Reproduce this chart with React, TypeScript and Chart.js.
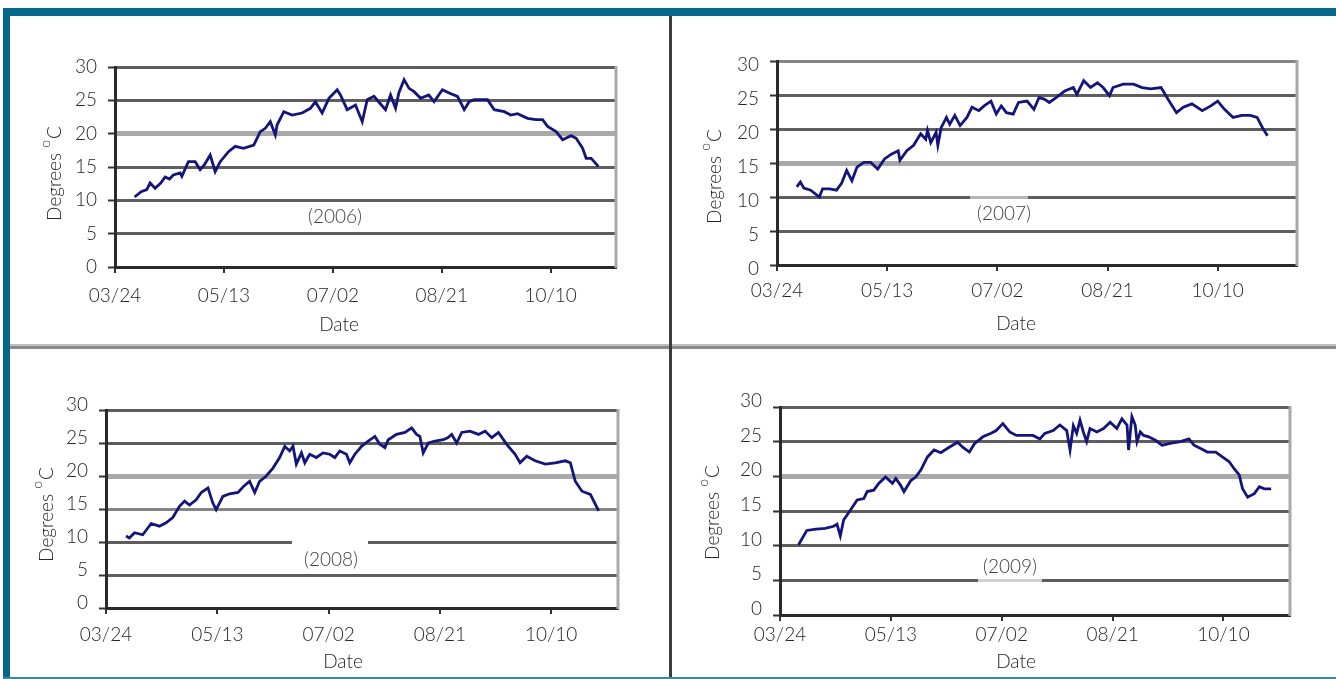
import React, { useEffect, useRef } from 'react';
import { Chart, registerables } from 'chart.js';

Chart.register(...registerables);

// ---------- data ----------
const TICK_DAYS = [0, 50, 100, 150, 200];
const TICK_LABELS = ['03/24', '05/13', '07/02', '08/21', '10/10'];
const Y_TICKS = [0, 5, 10, 15, 20, 25, 30];

const days2006 = [9, 12, 14.6, 16.1, 18.4, 21, 23, 25, 26.8, 29.9, 30.7, 33.7, 36.8, 39.1, 41, 43.7, 46, 48.3, 52.1, 55.2, 59, 63.7, 66.7, 69, 71.3, 73.6, 74.4, 77.5, 81.3, 85.9, 89.7, 92, 95.1, 98.2, 102, 103.5, 106.6, 110.4, 113.5, 115.8, 118.9, 121.5, 124.2, 126.5, 128.8, 130.3, 132.7, 135, 137.3, 140.3, 144, 146.5, 150.3, 153.4, 157.2, 158.8, 160.3, 162.6, 164.9, 167.2, 171, 174.1, 178.7, 181.7, 184.8, 189.4, 193.2, 196.3, 198.6, 202.5, 205.5, 209.4, 211.7, 214.7, 216.3, 218.6, 221.9];
const temps2006 = [10.5, 11.3, 11.6, 12.6, 11.8, 12.6, 13.5, 13.2, 13.8, 14.1, 13.6, 15.8, 15.8, 14.6, 15.3, 16.8, 14.3, 15.8, 17.3, 18.1, 17.8, 18.3, 20.3, 20.8, 21.8, 19.8, 21.3, 23.3, 22.8, 23.1, 23.8, 24.8, 23.1, 25.3, 26.6, 25.8, 23.6, 24.3, 21.8, 25.1, 25.6, 24.6, 23.6, 25.8, 23.8, 26.1, 28.1, 26.8, 26.3, 25.3, 25.8, 24.8, 26.6, 26.1, 25.6, 24.6, 23.6, 24.8, 25.1, 25.1, 25.1, 23.6, 23.3, 22.8, 23, 22.3, 22.1, 22.1, 21.1, 20.3, 19.1, 19.7, 19.3, 17.8, 16.3, 16.3, 15.1];

const days2007 = [9, 10.6, 12.2, 15.3, 19.2, 20.7, 23.9, 27, 29.3, 31.6, 34, 36.3, 39.4, 42.5, 45.7, 48.8, 51.9, 55, 55.8, 58.9, 62, 65.2, 67.5, 68.3, 69.8, 72.2, 73, 74.5, 76.9, 78.4, 80.7, 83.1, 86.2, 88.5, 91.6, 94, 97.1, 99.5, 101.8, 104.1, 107.2, 109.6, 113.5, 116.6, 118.9, 121.3, 123.6, 126.7, 130.6, 134.5, 136.1, 139.2, 142.3, 145.4, 148, 150.9, 152.5, 157.1, 161.8, 165.7, 169.6, 174.3, 177.4, 181.3, 184.4, 188.3, 193, 196.9, 200, 203.1, 207, 210.9, 214.8, 217.9, 220.3, 222.6];
const temps2007 = [11.5, 12.2, 11.3, 11, 10, 11.2, 11.2, 11, 12, 13.9, 12.4, 14.4, 15.1, 15.1, 14.1, 15.6, 16.3, 16.8, 15.4, 16.8, 17.6, 19.3, 18.5, 19.8, 18, 19.5, 17.6, 20.2, 21.7, 20.7, 22, 20.5, 21.7, 23.2, 22.7, 23.4, 24.1, 22.2, 23.4, 22.4, 22.2, 23.9, 24.1, 22.9, 24.6, 24.4, 23.9, 24.6, 25.6, 26.1, 25.1, 27.1, 26.1, 26.8, 26.1, 24.9, 26.1, 26.6, 26.6, 26.1, 25.9, 26.1, 24.4, 22.4, 23.2, 23.7, 22.7, 23.4, 24.1, 22.9, 21.7, 22, 22, 21.7, 20.2, 19];

const days2008 = [9, 10.5, 12.8, 16.5, 20.3, 24, 27, 30, 33, 35.3, 37.5, 40.5, 42.8, 45.8, 48, 49.5, 52.5, 55.5, 59.3, 62, 64.5, 66.8, 69, 72, 75, 78, 80.3, 82.5, 84, 85.5, 87.8, 89.3, 91.5, 94.5, 97.5, 100.5, 102.8, 105, 108, 109.5, 111.8, 114.8, 117.8, 120.8, 123, 125.3, 126.8, 130.5, 134.3, 137.3, 139.5, 141, 142.5, 144.8, 147.8, 151.5, 153.5, 155.3, 157.5, 159.8, 163.5, 167.3, 170.3, 173.3, 176.3, 180, 183.8, 186, 189, 192.8, 197.3, 201.8, 206.3, 208.6, 210.8, 213.8, 217.6, 221.3];
const temps2008 = [10.9, 10.6, 11.4, 11.1, 12.8, 12.4, 12.9, 13.7, 15.4, 16.2, 15.6, 16.4, 17.5, 18.2, 15.9, 14.9, 16.9, 17.3, 17.5, 18.5, 19.2, 17.5, 19.2, 20, 21.2, 22.8, 24.5, 23.8, 24.5, 21.8, 23.5, 22, 23.3, 22.8, 23.5, 23.3, 22.8, 23.8, 23.3, 22, 23.3, 24.5, 25.3, 26, 24.8, 24.3, 25.5, 26.3, 26.6, 27.3, 26.3, 26, 23.5, 25, 25.3, 25.5, 25.8, 26.3, 25, 26.6, 26.8, 26.3, 26.8, 25.8, 26.6, 24.8, 23.3, 22, 23, 22.3, 21.8, 22, 22.3, 22, 19.2, 17.7, 17.2, 14.7];

const days2009 = [8.3, 12.1, 16.3, 20.4, 24.2, 25.7, 27.2, 28.7, 31.7, 34.8, 37.8, 39.3, 42.3, 44.6, 47.6, 50.7, 52.2, 54.4, 55.9, 59, 61.2, 63.5, 66.5, 69.5, 72.5, 76.3, 80.1, 82.4, 85.4, 87.7, 91.5, 95.2, 97.5, 100.5, 103.6, 106.6, 110.4, 114.1, 117.2, 119.4, 123.2, 126.2, 129.3, 130.8, 132.3, 133.8, 135.3, 136.8, 138.3, 139.8, 142.9, 145.9, 148.9, 151.9, 154.2, 156.5, 157.2, 158.7, 160.2, 161, 162.5, 164, 166.3, 169.3, 172.3, 176.5, 180.6, 184.4, 186.7, 189.7, 192.7, 196.5, 199.5, 202.6, 204.8, 207.1, 208.6, 210.9, 213.9, 216.2, 218.4, 221.5];
const temps2009 = [10.1, 12.2, 12.4, 12.5, 12.8, 13.1, 11.4, 13.7, 15.1, 16.6, 16.8, 17.8, 18, 19, 19.9, 19, 19.7, 18.7, 17.8, 19.4, 19.9, 20.9, 22.8, 23.8, 23.4, 24.2, 24.9, 24.2, 23.5, 24.7, 25.7, 26.2, 26.6, 27.6, 26.4, 25.9, 25.9, 25.9, 25.4, 26.2, 26.6, 27.4, 26.6, 23.8, 27.3, 26.2, 28.1, 26.4, 25, 26.9, 26.4, 26.9, 27.8, 26.9, 28.3, 27.4, 23.8, 28.6, 27.4, 25, 26.4, 25.9, 25.7, 25.2, 24.5, 24.8, 25, 25.4, 24.5, 24, 23.5, 23.5, 22.8, 22.1, 21.1, 20.2, 18.2, 17, 17.5, 18.5, 18.2, 18.2];

// ---------- styles / layout ----------
const W = 1336;
const H = 679;
const FONT = "Lato, 'Open Sans', 'DejaVu Sans', sans-serif";
const WEIGHT = '300';
const TEXT = '#262626';
const LINE = '#14147a';
const TEAL = '#06698c';
const D = '#5e5e5e';
const M = '#858585';
const L = '#a9a9a9';

type Box = { x: number; y: number; w: number; h: number; fill: string } | null;
type PanelCfg = {
  year: string;
  days: number[];
  temps: number[];
  area: { l: number; r: number; t: number; b: number };
  xMax: number;
  xPad: number;
  yOff: number;
  grid: string[];
  yTitle: [number, number];
  xTitle: [number, number];
  label: [number, number];
  box: Box;
};

const PANELS: PanelCfg[] = [
  {
    year: '(2006)', days: days2006, temps: temps2006,
    area: { l: 115, r: 616, t: 67, b: 267 }, xMax: 230, xPad: 11, yOff: 0,
    grid: [D, D, D, D, L, D, D],
    yTitle: [54, 174], xTitle: [339, 325], label: [335, 217], box: null,
  },
  {
    year: '(2007)', days: days2007, temps: temps2007,
    area: { l: 777, r: 1297, t: 61, b: 265 }, xMax: 236, xPad: 8, yOff: 4,
    grid: [D, D, D, L, D, D, M],
    yTitle: [714, 177], xTitle: [1016, 324], label: [1004, 214],
    box: { x: 970, y: 194, w: 58, h: 5, fill: 'rgba(255,255,255,0.55)' },
  },
  {
    year: '(2008)', days: days2008, temps: temps2008,
    area: { l: 106, r: 618, t: 410, b: 608 }, xMax: 230, xPad: 9, yOff: -5,
    grid: [D, D, D, M, L, D, D],
    yTitle: [46, 515], xTitle: [343, 662], label: [331, 560],
    box: { x: 292, y: 541, w: 76, h: 30, fill: '#ffffff' },
  },
  {
    year: '(2009)', days: days2009, temps: temps2009,
    area: { l: 780, r: 1290, t: 407, b: 615 }, xMax: 230, xPad: 2, yOff: -6,
    grid: [D, D, D, D, L, D, D],
    yTitle: [712, 513], xTitle: [1016, 662], label: [1010, 567],
    box: { x: 978, y: 556, w: 64, h: 28, fill: 'rgba(255,255,255,0.7)' },
  },
];

function makeDecor(p: PanelCfg) {
  return {
    id: 'decor',
    beforeDatasetsDraw(chart: any) {
      const ctx = chart.ctx as CanvasRenderingContext2D;
      const a = chart.chartArea;
      ctx.save();
      ctx.strokeStyle = L;
      ctx.lineWidth = 3;
      ctx.beginPath();
      ctx.moveTo(a.right, a.top - 1);
      ctx.lineTo(a.right, a.bottom + 1);
      ctx.stroke();
      if (p.box) {
        ctx.fillStyle = p.box.fill;
        ctx.fillRect(p.box.x, p.box.y, p.box.w, p.box.h);
      }
      ctx.fillStyle = '#404040';
      ctx.font = `${WEIGHT} 19px ${FONT}`;
      ctx.textAlign = 'center';
      ctx.textBaseline = 'middle';
      ctx.fillText(p.year, p.label[0], p.label[1]);
      ctx.restore();
    },
    afterDraw(chart: any) {
      const ctx = chart.ctx as CanvasRenderingContext2D;
      ctx.save();
      ctx.fillStyle = TEXT;
      ctx.font = `${WEIGHT} 19px ${FONT}`;
      ctx.textAlign = 'center';
      ctx.textBaseline = 'middle';
      ctx.fillText('Date', p.xTitle[0], p.xTitle[1]);
      ctx.translate(p.yTitle[0], p.yTitle[1]);
      ctx.rotate(-Math.PI / 2);
      ctx.textAlign = 'left';
      ctx.textBaseline = 'alphabetic';
      const big = `${WEIGHT} 19px ${FONT}`;
      const small = `${WEIGHT} 14px ${FONT}`;
      ctx.font = big;
      const w1 = ctx.measureText('Degrees ').width;
      const w3 = ctx.measureText('C').width;
      ctx.font = small;
      const w2 = ctx.measureText('o').width;
      let x = -(w1 + w2 + w3) / 2;
      ctx.font = big;
      ctx.fillText('Degrees ', x, 7);
      x += w1;
      ctx.font = small;
      ctx.fillText('o', x, -4);
      x += w2 + 1;
      ctx.font = big;
      ctx.fillText('C', x, 7);
      ctx.restore();
    },
  };
}

function Panel({ p }: { p: PanelCfg }) {
  const ref = useRef<HTMLCanvasElement>(null);
  useEffect(() => {
    const canvas = ref.current;
    if (!canvas) return;
    const yW = 60;
    const xH = 60;
    const points = p.days.map((d, i) => ({ x: d, y: p.temps[i] }));
    const chart = new Chart(canvas, {
      type: 'line',
      data: {
        datasets: [
          {
            data: points,
            borderColor: LINE,
            borderWidth: 2.8,
            pointRadius: 0,
            tension: 0,
            fill: false,
          },
        ],
      },
      options: {
        animation: false,
        responsive: false,
        devicePixelRatio: 1,
        events: [],
        layout: {
          padding: {
            left: p.area.l - yW,
            top: p.area.t,
            right: W - p.area.r,
            bottom: H - p.area.b - xH,
          },
        },
        plugins: {
          legend: { display: false },
          tooltip: { enabled: false },
          title: { display: false },
        },
        scales: {
          x: {
            type: 'linear',
            min: 0,
            max: p.xMax,
            afterFit: (s: any) => {
              s.height = xH;
            },
            afterBuildTicks: (s: any) => {
              s.ticks = TICK_DAYS.map((v) => ({ value: v }));
            },
            grid: {
              drawOnChartArea: false,
              drawTicks: true,
              tickLength: 6,
              color: '#333',
              lineWidth: 2,
            },
            border: { display: true, color: '#2a2a2a', width: 3 },
            ticks: {
              autoSkip: false,
              maxRotation: 0,
              padding: p.xPad,
              color: TEXT,
              font: { family: FONT, size: 19, weight: WEIGHT },
              callback: (_v: any, i: number) => TICK_LABELS[i],
            },
          },
          y: {
            min: 0,
            max: 30,
            afterFit: (s: any) => {
              s.width = yW;
            },
            afterBuildTicks: (s: any) => {
              s.ticks = Y_TICKS.map((v) => ({ value: v }));
            },
            grid: {
              drawTicks: true,
              tickLength: 7,
              tickColor: '#333',
              tickWidth: 2,
              color: (c: any) => {
                const i = c.tick ? Y_TICKS.indexOf(c.tick.value) : -1;
                return i >= 0 ? p.grid[i] : D;
              },
              lineWidth: (c: any) => {
                const i = c.tick ? Y_TICKS.indexOf(c.tick.value) : -1;
                return i >= 0 && p.grid[i] === L ? 5 : 3;
              },
            },
            border: { display: true, color: '#2a2a2a', width: 3 },
            ticks: {
              padding: 11,
              labelOffset: p.yOff,
              color: TEXT,
              font: { family: FONT, size: 19, weight: WEIGHT },
              callback: (v: any) => String(v),
            },
          },
        },
      },
      plugins: [makeDecor(p)],
    } as any);
    return () => chart.destroy();
  }, [p]);
  return (
    <canvas
      ref={ref}
      width={W}
      height={H}
      style={{ position: 'absolute', left: 0, top: 0, width: W, height: H }}
    />
  );
}

export default function App() {
  const abs = (s: React.CSSProperties): React.CSSProperties => ({ position: 'absolute', ...s });
  return (
    <div
      style={{
        position: 'fixed',
        left: 0,
        top: 0,
        width: W,
        height: H,
        background: '#ffffff',
        overflow: 'hidden',
      }}
    >
      <div style={abs({ left: 3, top: 8, width: W - 3, height: 8, background: TEAL })} />
      <div style={abs({ left: 3, top: 8, width: 7, height: H - 8, background: TEAL })} />
      <div style={abs({ left: 3, top: H - 2, width: W - 3, height: 2, background: '#3a8aa6' })} />
      <div style={abs({ left: 10, top: 344, width: W - 10, height: 2, background: '#bdbdbd' })} />
      <div style={abs({ left: 10, top: 346, width: W - 10, height: 3, background: '#8a8a8a' })} />
      <div style={abs({ left: 669, top: 16, width: 3, height: H - 18, background: '#3c3c3c' })} />
      {PANELS.map((p) => (
        <Panel key={p.year} p={p} />
      ))}
    </div>
  );
}
